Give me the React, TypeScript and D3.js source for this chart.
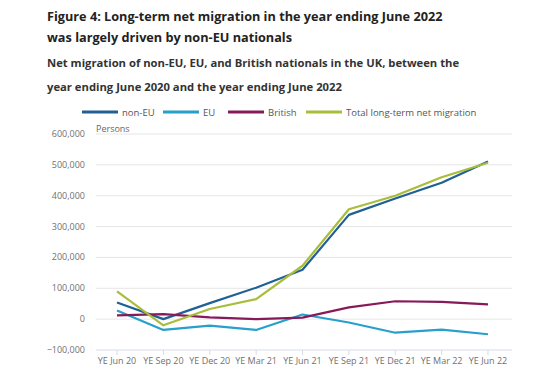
import * as d3 from 'd3';

const periods = ['YE Jun 20', 'YE Sep 20', 'YE Dec 20', 'YE Mar 21', 'YE Jun 21', 'YE Sep 21', 'YE Dec 21', 'YE Mar 22', 'YE Jun 22'];
const nonEU = [54000, 0, 52000, 102000, 160000, 338000, 391000, 442000, 511000];
const eu = [28000, -35000, -21000, -35000, 15000, -11000, -44000, -34000, -49000];
const british = [12000, 16000, 6000, 0, 5000, 38000, 58000, 56000, 48000];
const total = [90000, -20000, 33000, 65000, 173000, 356000, 400000, 460000, 507000];
const yTicks = [-100000, 0, 100000, 200000, 300000, 400000, 500000, 600000];

const series = [
  { name: 'non-EU', values: nonEU, color: '#206095' },
  { name: 'EU', values: eu, color: '#27A0CC' },
  { name: 'British', values: british, color: '#871A5B' },
  { name: 'Total long-term net migration', values: total, color: '#A8BD3A' },
];

const legendX = [82, 163, 228, 306];

export default function App() {
  const width = 555;
  const height = 370;
  const font = "'Open Sans', sans-serif";

  const x = d3.scalePoint<string>().domain(periods).range([117, 488]);
  const y = d3.scaleLinear().domain([-100000, 600000]).range([350, 134]);
  const fmt = d3.format(',');

  const line = d3
    .line<number>()
    .x((_, i) => x(periods[i])!)
    .y((d) => y(d));

  return (
    <svg width={width} height={height} style={{ position: 'absolute', left: 0, top: 0 }} fontFamily={font}>
      <rect width={width} height={height} fill="#fff" />
      <text x={47} y={21} fontSize={12.7} fontWeight={700} fill="#222">
        Figure 4: Long-term net migration in the year ending June 2022
      </text>
      <text x={47} y={42} fontSize={12.7} fontWeight={700} fill="#222">
        was largely driven by non-EU nationals
      </text>
      <text x={47} y={67} fontSize={11.25} fontWeight={700} fill="#333">
        Net migration of non-EU, EU, and British nationals in the UK, between the
      </text>
      <text x={47} y={91} fontSize={11.25} fontWeight={700} fill="#333">
        year ending June 2020 and the year ending June 2022
      </text>

      {series.map((s, i) => (
        <g key={s.name}>
          <line x1={legendX[i]} x2={legendX[i] + 36} y1={112} y2={112} stroke={s.color} strokeWidth={3} />
          <text x={legendX[i] + 40} y={115.5} fontSize={9.5} fill="#555">
            {s.name}
          </text>
        </g>
      ))}

      <text x={96} y={132} fontSize={9} fill="#666">
        Persons
      </text>

      {yTicks.map((t) => (
        <g key={t}>
          <line x1={96} x2={512} y1={y(t)} y2={y(t)} stroke={t === -100000 ? '#d6dbe6' : '#e6e6e6'} strokeWidth={1} />
          <text x={85} y={y(t) + 3} fontSize={9} fill="#707071" textAnchor="end">
            {fmt(t)}
          </text>
        </g>
      ))}

      {periods.map((p) => (
        <g key={p}>
          <line x1={x(p)} x2={x(p)} y1={350} y2={355} stroke="#d6dbe6" />
          <text x={x(p)} y={364} fontSize={9} fill="#707071" textAnchor="middle">
            {p}
          </text>
        </g>
      ))}

      {series.map((s) => (
        <path key={s.name} d={line(s.values) || ''} fill="none" stroke={s.color} strokeWidth={2.2} strokeLinejoin="round" />
      ))}
    </svg>
  );
}
